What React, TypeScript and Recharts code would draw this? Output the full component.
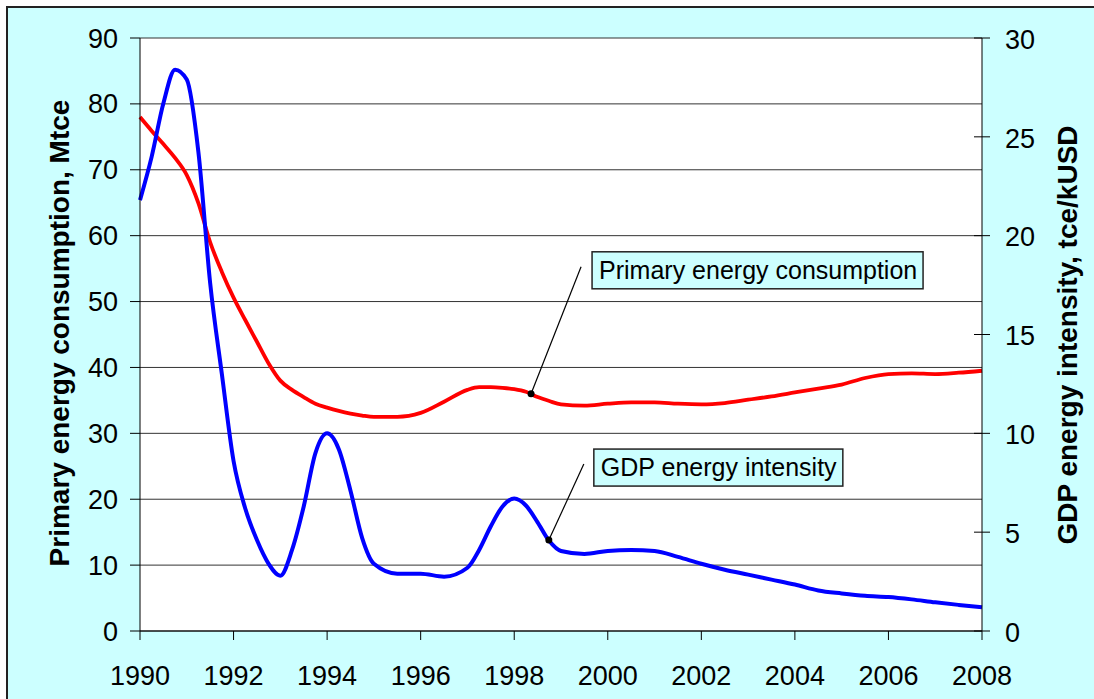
import React from "react";
import {
  LineChart,
  Line,
  XAxis,
  YAxis,
  CartesianGrid,
  ReferenceDot,
} from "recharts";

// Primary energy consumption (Mtce, left) vs GDP energy intensity
// (tce/kUSD, right), 1990-2008, smoothed lines with two callouts.

const YEARS = [
  1990, 1990.25, 1990.5, 1990.75, 1991, 1991.25, 1991.5, 1991.75,
  1992, 1992.25, 1992.5, 1992.75, 1993, 1993.25, 1993.5, 1993.75,
  1994, 1994.25, 1994.5, 1994.75, 1995, 1995.5, 1996, 1996.5,
  1997, 1997.25, 1997.5, 1997.75, 1998, 1998.25, 1998.5, 1998.75,
  1999, 1999.5, 2000, 2000.5, 2001, 2001.5, 2002, 2002.5,
  2003, 2003.5, 2004, 2004.5, 2005, 2005.5, 2006, 2006.5,
  2007, 2007.5, 2008,
];

const CONSUMPTION = [
  78, 75.9, 73.9, 71.8, 69.2, 64.9, 59.0, 54.5,
  50.6, 47.2, 43.9, 40.6, 38.0, 36.6, 35.5, 34.5,
  33.9, 33.4, 33.0, 32.7, 32.5, 32.5, 33.1, 34.8,
  36.6, 37.0, 37.0, 36.9, 36.7, 36.3, 35.5, 34.9,
  34.4, 34.2, 34.5, 34.7, 34.7, 34.5, 34.4, 34.6,
  35.1, 35.6, 36.2, 36.8, 37.4, 38.4, 39.0, 39.1,
  39.0, 39.2, 39.5,
];

const INTENSITY = [
  21.8, 24.0, 26.7, 28.4, 27.9, 24.2, 17.6, 13.0,
  8.6, 6.2, 4.6, 3.4, 2.8, 4.1, 6.3, 9.0,
  10.0, 9.2, 7.1, 4.7, 3.4, 2.9, 2.9, 2.75,
  3.2, 4.1, 5.3, 6.3, 6.7, 6.35, 5.5, 4.55,
  4.05, 3.9, 4.05, 4.1, 4.05, 3.75, 3.4, 3.1,
  2.85, 2.6, 2.35, 2.05, 1.9, 1.78, 1.72, 1.6,
  1.45, 1.32, 1.2,
];

const X_TICKS = [1990, 1992, 1994, 1996, 1998, 2000, 2002, 2004, 2006, 2008];
const LEFT_TICKS = [0, 10, 20, 30, 40, 50, 60, 70, 80, 90];
const RIGHT_TICKS = [0, 5, 10, 15, 20, 25, 30];

const CALLOUT_CONSUMPTION = { year: 1998.36, value: 36.0, text: "Primary energy consumption" };
const CALLOUT_INTENSITY = { year: 1998.74, value: 4.6, text: "GDP energy intensity" };

const FONT = "'Liberation Sans', Arial, sans-serif";
const BG = "#ccffff";
const TICK_SIZE = 27;

const dados = YEARS.map((t, i) => ({
  t,
  consumo: CONSUMPTION[i],
  intensidade: INTENSITY[i],
}));

function RightTick(props: any) {
  const { x, y, payload } = props;
  const ax = x - 23;
  return (
    <g>
      <line x1={ax - 8} x2={ax + 8} y1={y} y2={y} stroke="#000" strokeWidth={1} />
      <text x={x} y={y} dy="0.4em" textAnchor="start" fontSize={TICK_SIZE} fontFamily={FONT} fill="#000">
        {payload.value}
      </text>
    </g>
  );
}

function callout(dx: number, dy: number, bx: number, by: number, w: number, text: string) {
  return (props: any) => {
    const { cx, cy } = props;
    return (
      <g>
        <line x1={cx} y1={cy} x2={cx + dx} y2={cy + dy} stroke="#000" strokeWidth={1.2} />
        <circle cx={cx} cy={cy} r={3.5} fill="#000" />
        <rect x={cx + bx} y={cy + by} width={w} height={37} fill={BG} stroke="#222" strokeWidth={1.5} />
        <text x={cx + bx + 7} y={cy + by + 27} fontSize={25} fontFamily={FONT} fill="#000">
          {text}
        </text>
      </g>
    );
  };
}

const tituloEstilo: React.CSSProperties = {
  position: "absolute",
  transform: "translate(-50%, -50%) rotate(-90deg)",
  whiteSpace: "nowrap",
  fontFamily: FONT,
  fontWeight: "bold",
  fontSize: 28,
  color: "#000",
};

export default function App() {
  return (
    <div
      style={{
        position: "fixed",
        left: 0,
        top: 0,
        width: 1094,
        height: 699,
        background: "#fff",
        overflow: "hidden",
      }}
    >
      <div
        style={{
          position: "absolute",
          left: 6,
          top: 6,
          right: -30,
          bottom: -30,
          background: BG,
          borderTop: "2px solid #222",
          borderLeft: "2px solid #222",
        }}
      />
      <div style={{ position: "absolute", left: 0, top: 0 }}>
        <LineChart
          width={1094}
          height={699}
          data={dados}
          margin={{ top: 38, right: 52, bottom: 18, left: 80 }}
        >
          <CartesianGrid
            yAxisId="left"
            vertical={false}
            stroke="#333"
            strokeWidth={1}
            fill="#fff"
            fillOpacity={1}
          />
          <XAxis
            dataKey="t"
            type="number"
            domain={[1990, 2008]}
            ticks={X_TICKS}
            height={50}
            tickSize={9}
            tickMargin={26}
            stroke="#000"
            tick={{ fontSize: TICK_SIZE, fontFamily: FONT, fill: "#000" }}
          />
          <YAxis
            yAxisId="left"
            domain={[0, 90]}
            ticks={LEFT_TICKS}
            width={60}
            tickSize={10}
            tickMargin={12}
            stroke="#000"
            tick={{ fontSize: TICK_SIZE, fontFamily: FONT, fill: "#000" }}
          />
          <YAxis
            yAxisId="right"
            orientation="right"
            domain={[0, 30]}
            ticks={RIGHT_TICKS}
            width={60}
            tickSize={8}
            tickMargin={15}
            tickLine={false}
            stroke="#000"
            tick={<RightTick />}
          />
          <Line
            yAxisId="left"
            dataKey="consumo"
            type="monotone"
            stroke="#ff0000"
            strokeWidth={3.8}
            dot={false}
            isAnimationActive={false}
          />
          <Line
            yAxisId="right"
            dataKey="intensidade"
            type="monotone"
            stroke="#0000ff"
            strokeWidth={4}
            dot={false}
            isAnimationActive={false}
          />
          <ReferenceDot
            yAxisId="left"
            x={CALLOUT_CONSUMPTION.year}
            y={CALLOUT_CONSUMPTION.value}
            shape={callout(50, -127, 61, -142, 331, CALLOUT_CONSUMPTION.text)}
          />
          <ReferenceDot
            yAxisId="right"
            x={CALLOUT_INTENSITY.year}
            y={CALLOUT_INTENSITY.value}
            shape={callout(35, -76, 45, -91, 249, CALLOUT_INTENSITY.text)}
          />
        </LineChart>
      </div>
      <div style={{ ...tituloEstilo, left: 60, top: 333 }}>
        Primary energy consumption, Mtce
      </div>
      <div style={{ ...tituloEstilo, left: 1068, top: 335 }}>
        GDP energy intensity, tce/kUSD
      </div>
    </div>
  );
}
